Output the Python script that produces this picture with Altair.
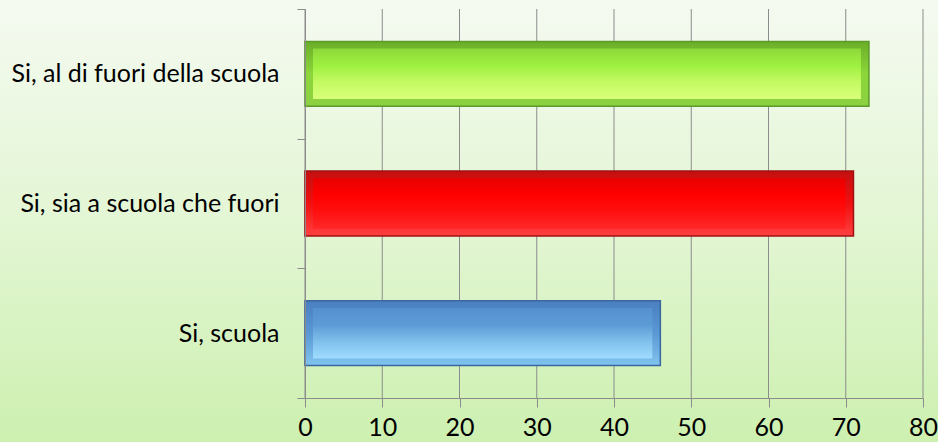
import altair as alt
import pandas as pd

categories = ["Si, al di fuori della scuola", "Si, sia a scuola che fuori", "Si, scuola"]
values = [73, 71, 46]
x_ticks = [0, 10, 20, 30, 40, 50, 60, 70, 80]
bar_outer = [
    ["#6aae28", "#8cd63a", "#8cd040"],
    ["#c41010", "#f01010", "#ff4040"],
    ["#4a7fc0", "#5a98d4", "#80c4ee"],
]
bar_inner = [
    ["#8ed83a", "#9ef040", "#c4fa62", "#d8ff78"],
    ["#e80000", "#ff0000", "#ff1010", "#ff2828"],
    ["#5690cf", "#5b9bd5", "#80c0ec", "#a0dcff"],
]
bar_stroke = ["#5a9a2a", "#a01010", "#3a689e"]

W, H = 618, 389
PAD = {"left": 305, "top": 9, "right": 15, "bottom": 44}
FONT = "Lato"

df = pd.DataFrame({"cat": categories, "val": values})
grid_df = pd.DataFrame({"t": x_ticks})

x_scale = alt.Scale(domain=[0, 80], nice=False)
y_scale = alt.Scale(domain=categories, paddingInner=0, paddingOuter=0)


def vgrad(stops):
    n = len(stops)
    return alt.LinearGradient(
        gradient="linear", x1=0, y1=0, x2=0, y2=1,
        stops=[alt.GradientStop(color=c, offset=i / (n - 1)) for i, c in enumerate(stops)],
    )


background = alt.Chart(grid_df).mark_rect(
    fill=vgrad(["#f5faf1", "#e3f6d4", "#cdf0b0"]), strokeWidth=0
).encode(
    x=alt.value(-PAD["left"]), x2=alt.value(W + PAD["right"]),
    y=alt.value(-PAD["top"]), y2=alt.value(H + PAD["bottom"]),
)

grid = alt.Chart(grid_df).mark_rule(color="#8c8c8c", strokeWidth=1).encode(
    x=alt.X("t:Q", scale=x_scale,
            axis=alt.Axis(values=x_ticks, title=None, grid=False, domainColor="#8c8c8c",
                          tickColor="#8c8c8c", tickSize=9, labelFontSize=25, labelFont=FONT,
                          labelColor="#000000", labelPadding=8, labelFlush=False, zindex=1)),
    y=alt.value(0), y2=alt.value(H),
)

layers = [background, grid]
for i, c in enumerate(categories):
    base = alt.Chart(df).transform_filter(alt.datum.cat == c)
    enc = dict(
        x=alt.X("val:Q", scale=x_scale),
        x2=alt.datum(0),
        y=alt.Y("cat:N", scale=y_scale, sort=categories,
                axis=alt.Axis(title=None, tickBand="extent", domainColor="#8c8c8c",
                              tickColor="#8c8c8c", tickSize=8, labelFontSize=25, labelFont=FONT,
                              labelColor="#000000", labelPadding=18, labelLimit=300, zindex=1)),
    )
    outer = base.mark_bar(fill=vgrad(bar_outer[i]), stroke=bar_stroke[i], strokeWidth=1.5,
                          height={"band": 0.5}).encode(**enc)
    inner = base.mark_bar(fill=vgrad(bar_inner[i]), xOffset=-8, x2Offset=8,
                          height={"band": 0.39}).encode(**enc)
    layers += [outer, inner]

chart = alt.layer(*layers).resolve_scale(x="shared", y="shared").properties(
    width=W, height=H, padding=PAD, autosize=alt.AutoSizeParams(type="none"),
    background="#e6f5da",
).configure_view(stroke=None)

chart.save("out.html", embed_options={"renderer": "svg", "actions": False})
